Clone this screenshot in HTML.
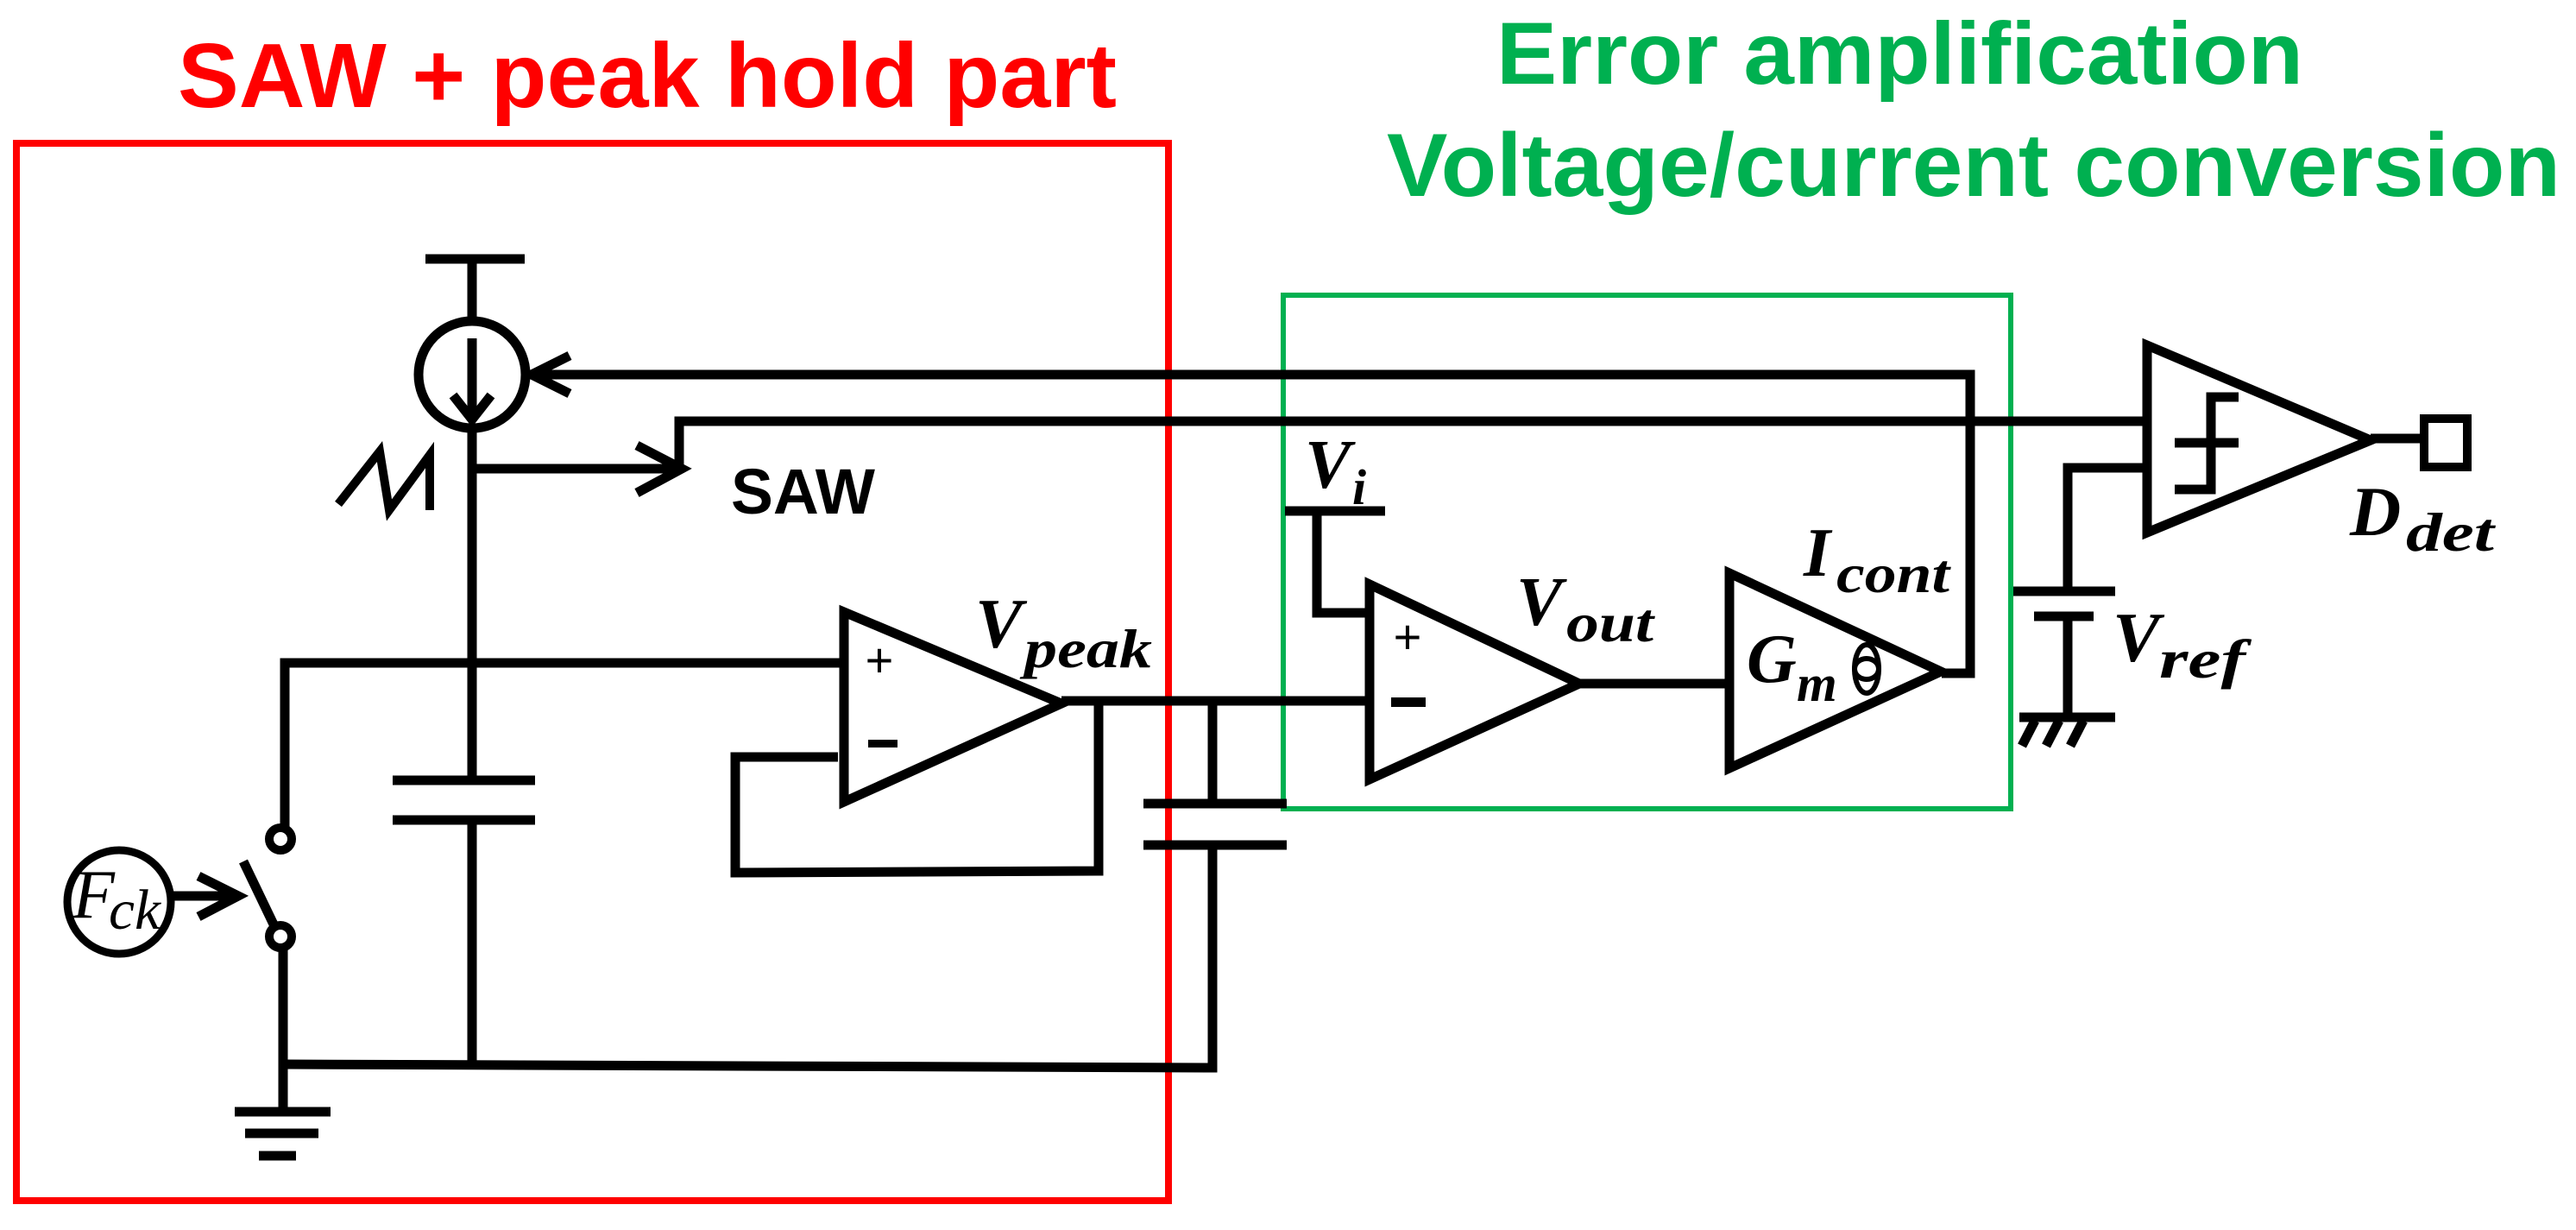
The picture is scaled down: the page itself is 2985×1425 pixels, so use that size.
<!DOCTYPE html>
<html><head><meta charset="utf-8"><style>
html,body{margin:0;padding:0;background:#fff;}
svg{display:block;}
.t{font-family:"Liberation Sans",sans-serif;font-weight:bold;}
.m{font-family:"Liberation Serif",serif;font-weight:bold;font-style:italic;fill:#000;}
</style></head><body>
<svg width="2985" height="1425" viewBox="0 0 2985 1425" xmlns="http://www.w3.org/2000/svg">
<rect width="2985" height="1425" fill="#fff"/>
<text class="t" x="206" y="124" font-size="106" fill="#ff0000" textLength="1088" lengthAdjust="spacingAndGlyphs">SAW + peak hold part</text>
<text class="t" x="1734" y="97" font-size="102" fill="#00b050" textLength="935" lengthAdjust="spacingAndGlyphs">Error amplification</text>
<text class="t" x="1607" y="227" font-size="104" fill="#00b050" textLength="1360" lengthAdjust="spacingAndGlyphs">Voltage/current conversion</text>
<rect x="19" y="166" width="1335" height="1225" fill="none" stroke="#ff0000" stroke-width="8"/>
<rect x="1487" y="342" width="843" height="595" fill="none" stroke="#00b050" stroke-width="6"/>

<g stroke="#000" stroke-width="11" fill="none" stroke-linecap="butt">
<line x1="493" y1="300" x2="608" y2="300"/>
<line x1="547" y1="300" x2="547" y2="372"/>
<circle cx="547" cy="434" r="62"/>
<line x1="547" y1="392" x2="547" y2="482"/>
<polyline points="525,458 547,486 569,458"/>
<line x1="547" y1="496" x2="547" y2="904"/>
<line x1="547" y1="950" x2="547" y2="1238"/>
<polyline points="612,434 2283,434 2283,780 2250,780"/>
<polyline points="660,412 616,434 660,456"/>
<polyline points="787,548 787,488 2488,488"/>
<line x1="547" y1="543" x2="790" y2="543"/>
<polyline points="738,516 790,543 738,571"/>
<polyline points="392,584 440,523 451,591 498,527 498,591" stroke-width="10"/>
<polyline points="330,962 330,768 978,768"/>
<line x1="455" y1="904" x2="620" y2="904"/>
<line x1="455" y1="950" x2="620" y2="950"/>
<circle cx="325" cy="972" r="13" stroke-width="10"/>
<circle cx="325" cy="1085" r="13" stroke-width="10"/>
<line x1="282" y1="998" x2="318" y2="1073"/>
<polyline points="328,1098 328,1288"/>
<line x1="272" y1="1288" x2="383" y2="1288"/>
<line x1="284" y1="1313" x2="369" y2="1313"/>
<line x1="300" y1="1339" x2="343" y2="1339"/>
<circle cx="138" cy="1045" r="60" stroke-width="9"/>
<line x1="200" y1="1038" x2="276" y2="1038"/>
<polyline points="230,1015 276,1038 230,1062"/>
<polyline points="328,1233 1405,1237 1405,981"/>
<polygon points="978,709 978,929 1230,815" stroke-linejoin="miter"/>
<polyline points="971,877 852,877 852,1011 1273,1009 1273,815"/>
<line x1="1230" y1="812" x2="1587" y2="812"/>
<line x1="1405" y1="812" x2="1405" y2="931"/>
<line x1="1325" y1="931" x2="1491" y2="931"/>
<line x1="1325" y1="979" x2="1491" y2="979"/>
<line x1="1489" y1="592" x2="1605" y2="592"/>
<polyline points="1526,592 1526,710 1587,710"/>
<polygon points="1587,677 1587,903 1830,792"/>
<line x1="1830" y1="792" x2="2004" y2="792"/>
<polygon points="2004,664 2004,890 2249,778"/>
<ellipse cx="2163" cy="775" rx="14" ry="28" stroke-width="6"/>
<ellipse cx="2163" cy="775" rx="14" ry="12" stroke-width="6"/>
<polyline points="2396,685 2396,542 2488,542"/>
<line x1="2333" y1="685" x2="2451" y2="685"/>
<line x1="2357" y1="714" x2="2426" y2="714"/>
<line x1="2396" y1="714" x2="2396" y2="831"/>
<line x1="2340" y1="831" x2="2451" y2="831"/>
<line x1="2358" y1="835" x2="2343" y2="864"/>
<line x1="2386" y1="835" x2="2371" y2="864"/>
<line x1="2414" y1="835" x2="2399" y2="864"/>
<polygon points="2488,400 2488,617 2747,510"/>
<polyline points="2594,460 2562,460 2562,567 2520,567"/>
<line x1="2520" y1="513" x2="2594" y2="513"/>
<line x1="2747" y1="508" x2="2807" y2="508"/>
<rect x="2809" y="485" width="50" height="56" stroke-width="10"/>
</g>
<g class="t" fill="#000">
<text x="1019" y="784" font-size="56" text-anchor="middle" style="font-weight:normal">+</text>
<rect x="1006" y="857" width="34" height="9"/>
<text x="1631" y="757" font-size="56" text-anchor="middle" style="font-weight:normal">+</text>
<rect x="1612" y="808" width="40" height="11"/>
</g>
<text class="t" x="847" y="595" font-size="74" fill="#000" textLength="167" lengthAdjust="spacingAndGlyphs">SAW</text>
<text class="m" x="1130" y="750" font-size="82">V</text>
<text class="m" x="1187" y="773" font-size="64" textLength="148" lengthAdjust="spacingAndGlyphs">peak</text>
<text class="m" x="1512" y="565" font-size="80">V</text>
<text class="m" x="1567" y="584" font-size="58">i</text>
<text class="m" x="1757" y="724" font-size="80">V</text>
<text class="m" x="1815" y="743" font-size="64" textLength="101" lengthAdjust="spacingAndGlyphs">out</text>
<text class="m" x="2090" y="667" font-size="80">I</text>
<text class="m" x="2128" y="686" font-size="64" textLength="131" lengthAdjust="spacingAndGlyphs">cont</text>
<text class="m" x="2024" y="790" font-size="80">G</text>
<text class="m" x="2082" y="812" font-size="60">m</text>
<text class="m" x="2448" y="766" font-size="82">V</text>
<text class="m" x="2502" y="785" font-size="64" textLength="100" lengthAdjust="spacingAndGlyphs">ref</text>
<text class="m" x="2723" y="620" font-size="82">D</text>
<text class="m" x="2788" y="638" font-size="64" textLength="102" lengthAdjust="spacingAndGlyphs">det</text>
<text class="m" x="84" y="1063" font-size="80" style="font-weight:normal">F</text>
<text class="m" x="126" y="1076" font-size="66" style="font-weight:normal" textLength="60" lengthAdjust="spacingAndGlyphs">ck</text>
</svg>
</body></html>
